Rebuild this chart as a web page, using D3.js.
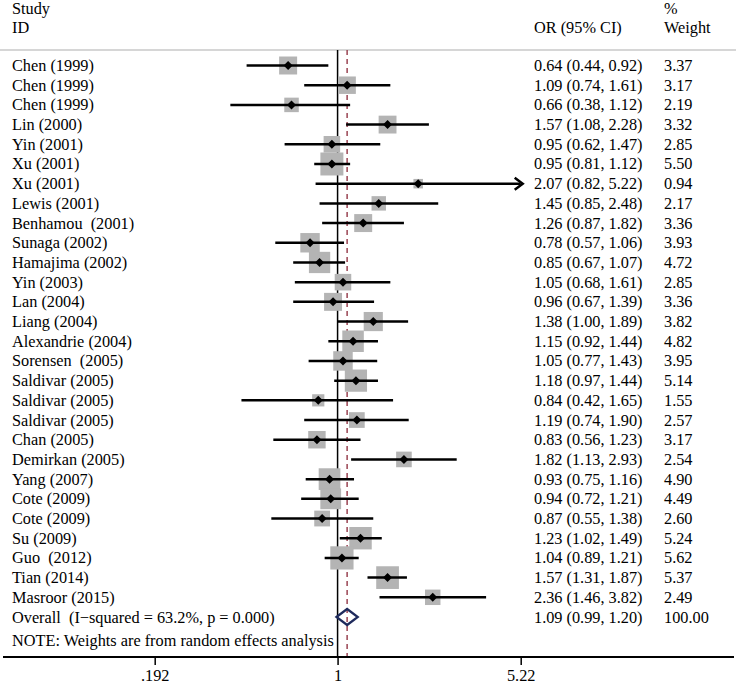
<!DOCTYPE html>
<html><head><meta charset="utf-8">
<script src="https://cdn.jsdelivr.net/npm/d3@7"></script>
<style>body{margin:0;background:#fff}svg text{font-family:"Liberation Serif","Times New Roman",serif;font-size:16.3px;fill:#000}</style>
</head><body><svg id="c" width="736" height="686"></svg>
<script>
const studies = ["Chen (1999)","Chen (1999)","Chen (1999)","Lin (2000)","Yin (2001)","Xu (2001)","Xu (2001)","Lewis (2001)","Benhamou  (2001)","Sunaga (2002)","Hamajima (2002)","Yin (2003)","Lan (2004)","Liang (2004)","Alexandrie (2004)","Sorensen  (2005)","Saldivar (2005)","Saldivar (2005)","Saldivar (2005)","Chan (2005)","Demirkan (2005)","Yang (2007)","Cote (2009)","Cote (2009)","Su (2009)","Guo  (2012)","Tian (2014)","Masroor (2015)"];
const orVals = [0.64,1.09,0.66,1.57,0.95,0.95,2.07,1.45,1.26,0.78,0.85,1.05,0.96,1.38,1.15,1.05,1.18,0.84,1.19,0.83,1.82,0.93,0.94,0.87,1.23,1.04,1.57,2.36];
const lowVals = [0.44,0.74,0.38,1.08,0.62,0.81,0.82,0.85,0.87,0.57,0.67,0.68,0.67,1.00,0.92,0.77,0.97,0.42,0.74,0.56,1.13,0.75,0.72,0.55,1.02,0.89,1.31,1.46];
const highVals = [0.92,1.61,1.12,2.28,1.47,1.12,5.22,2.48,1.82,1.06,1.07,1.61,1.39,1.89,1.44,1.43,1.44,1.65,1.90,1.23,2.93,1.16,1.21,1.38,1.49,1.21,1.87,3.82];
const weights = ["3.37","3.17","2.19","3.32","2.85","5.50","0.94","2.17","3.36","3.93","4.72","2.85","3.36","3.82","4.82","3.95","5.14","1.55","2.57","3.17","2.54","4.90","4.49","2.60","5.24","5.62","5.37","2.49"];
const overall = {label:"Overall  (I\u2212squared = 63.2%, p = 0.000)", or:1.09, lo:0.99, hi:1.20, w:"100.00"};
const tickVals = [0.192, 1, 5.22];
const tickLabels = [".192","1","5.22"];

const svg = d3.select("#c");
const x = d3.scaleLog().domain([0.192, 5.22]).range([154.7, 520.7]);
const nRows = studies.length + 1;
const y = d3.scaleLinear().domain([0, nRows - 1]).range([65.5, 617]);
const fmt = d3.format(".2f");
const axisY = 657;

// header
svg.append("text").attr("x",12).attr("y",14).text("Study");
svg.append("text").attr("x",12).attr("y",33).text("ID");
svg.append("text").attr("x",534).attr("y",33).text("OR (95% CI)");
svg.append("text").attr("x",664).attr("y",14).text("%");
svg.append("text").attr("x",664).attr("y",33).text("Weight");
svg.append("line").attr("x1",0).attr("x2",736).attr("y1",50).attr("y2",50).attr("stroke","#c8c8c8").attr("stroke-width",1.5);

// reference lines
svg.append("line").attr("x1",x(1)).attr("x2",x(1)).attr("y1",50).attr("y2",axisY).attr("stroke","#000").attr("stroke-width",1.5);
svg.append("line").attr("x1",x(overall.or)).attr("x2",x(overall.or)).attr("y1",50).attr("y2",axisY).attr("stroke","#9a4452").attr("stroke-width",1.5).attr("stroke-dasharray","5,4");

const rows = studies.map((s,i)=>({s, or:orVals[i], lo:lowVals[i], hi:highVals[i], w:weights[i], i}));

// boxes
const k = 9.8;
svg.selectAll("rect.box").data(rows).join("rect").attr("class","box")
  .attr("x",d=>x(d.or)-k*Math.sqrt(+d.w)/2).attr("y",d=>y(d.i)-k*Math.sqrt(+d.w)/2)
  .attr("width",d=>k*Math.sqrt(+d.w)).attr("height",d=>k*Math.sqrt(+d.w)).attr("fill","#b4b4b4");

// CI lines
const xMax = 5.22;
svg.selectAll("line.ci").data(rows).join("line").attr("class","ci")
  .attr("x1",d=>x(d.lo)).attr("x2",d=>x(Math.min(d.hi,xMax))).attr("y1",d=>y(d.i)).attr("y2",d=>y(d.i))
  .attr("stroke","#000").attr("stroke-width",2.5);
// arrow for truncated
rows.filter(d=>d.hi>=xMax).forEach(d=>{
  const tx = x(xMax)+2, ty = y(d.i);
  svg.append("path").attr("d",`M${tx-8},${ty-6}L${tx},${ty}L${tx-8},${ty+6}`).attr("fill","none").attr("stroke","#000").attr("stroke-width",2.5);
});
// point markers
svg.selectAll("path.pt").data(rows).join("path").attr("class","pt")
  .attr("d",d=>{const cx=x(d.or), cy=y(d.i), r=4.5; return `M${cx},${cy-r}L${cx+r},${cy}L${cx},${cy+r}L${cx-r},${cy}Z`;})
  .attr("fill","#000");

// overall diamond
const oy = y(nRows-1);
svg.append("path").attr("d",`M${x(overall.lo)},${oy}L${x(overall.or)},${oy-8}L${x(overall.hi)},${oy}L${x(overall.or)},${oy+8}Z`)
  .attr("fill","none").attr("stroke","#1e2a5c").attr("stroke-width",2.2);

// text columns
const all = rows.map(d=>({label:d.s, or:d.or, lo:d.lo, hi:d.hi, w:d.w, i:d.i})).concat([{label:overall.label, or:overall.or, lo:overall.lo, hi:overall.hi, w:overall.w, i:nRows-1}]);
svg.selectAll("text.lab").data(all).join("text").attr("class","lab").attr("x",12).attr("y",d=>y(d.i)+5.5).attr("xml:space","preserve").style("white-space","pre").text(d=>d.label);
svg.selectAll("text.orT").data(all).join("text").attr("class","orT").attr("x",534).attr("y",d=>y(d.i)+5.5).text(d=>`${fmt(d.or)} (${fmt(d.lo)}, ${fmt(d.hi)})`);
svg.selectAll("text.wT").data(all).join("text").attr("class","wT").attr("x",664).attr("y",d=>y(d.i)+5.5).text(d=>d.w);

svg.append("text").attr("x",12).attr("y",646).text("NOTE: Weights are from random effects analysis");

// axis
svg.append("line").attr("x1",3).attr("x2",734).attr("y1",axisY).attr("y2",axisY).attr("stroke","#000").attr("stroke-width",2);
const ax = d3.axisBottom(x).tickValues(tickVals).tickFormat((d,i)=>tickLabels[i]).tickSize(8).tickPadding(4);
const g = svg.append("g").attr("transform",`translate(0,${axisY})`).call(ax);
g.select(".domain").remove();
g.selectAll(".tick line").attr("stroke","#000").attr("stroke-width",1.5);
g.selectAll(".tick text").style("font-family","'Liberation Serif','Times New Roman',serif").style("font-size","16.3px").attr("fill","#000");
</script></body></html>
